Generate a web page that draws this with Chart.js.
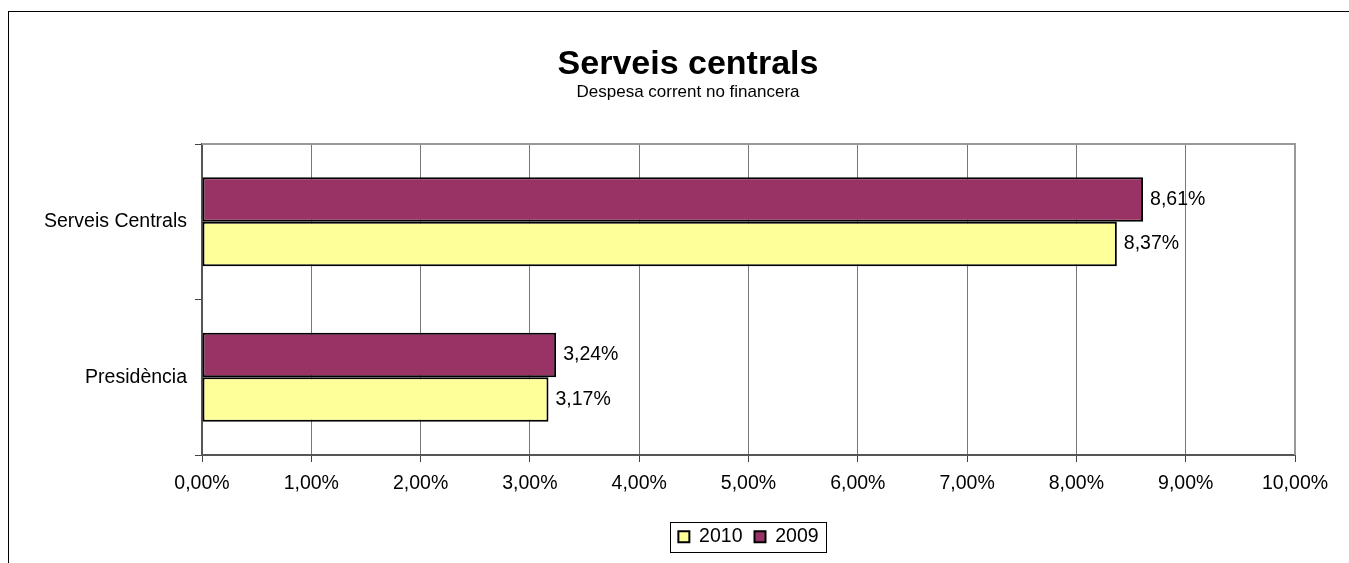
<!DOCTYPE html>
<html lang="ca">
<head>
    <meta charset="UTF-8">
    <title>Serveis centrals</title>
    <style>
        html, body { margin: 0; padding: 0; overflow: hidden; background: #fff; }
        .chart-container { width: 1376px; height: 563px; }
    </style>
</head>
<body>
    <div class="chart-container">
        <canvas id="graficaServeis" width="1376" height="563"></canvas>
    </div>

    <script src="https://cdn.jsdelivr.net/npm/chart.js"></script>
    <script>
        // Dades del gràfic
        const categories = ['Serveis Centrals', 'Presidència'];
        const valors2009 = [8.61, 3.24];
        const valors2010 = [8.37, 3.17];
        const ticksX = [0, 1, 2, 3, 4, 5, 6, 7, 8, 9, 10];

        const FONT = "'Liberation Sans', Arial, sans-serif";

        // Format català: 8,61%
        function percent(v) {
            return v.toFixed(2).replace('.', ',') + '%';
        }

        // Marc exterior i vora superior/dreta de l'àrea del gràfic
        const marcs = {
            id: 'marcs',
            beforeDraw(chart) {
                const c = chart.ctx;
                c.save();
                c.fillStyle = '#fff';
                c.fillRect(0, 0, chart.width, chart.height);
                c.strokeStyle = '#000';
                c.lineWidth = 1;
                c.strokeRect(8.5, 11.5, 1360, 600);
                c.restore();
            },
            afterDatasetsDraw(chart) {
                const a = chart.chartArea;
                const c = chart.ctx;
                c.save();
                c.strokeStyle = '#999';
                c.lineWidth = 2;
                c.beginPath();
                c.moveTo(a.left, a.top);
                c.lineTo(a.right, a.top);
                c.lineTo(a.right, a.bottom);
                c.stroke();
                c.restore();

                // etiquetes de valor al final de cada barra
                c.save();
                c.font = '19.5px ' + FONT;
                c.fillStyle = '#000';
                c.textAlign = 'left';
                c.textBaseline = 'middle';
                chart.data.datasets.forEach((ds, i) => {
                    chart.getDatasetMeta(i).data.forEach((bar, j) => {
                        c.fillText(percent(ds.data[j]), bar.x + 7, bar.y);
                    });
                });
                c.restore();
            },
            afterDraw(chart) {
                // requadre de la llegenda
                const boxes = chart.legend.legendHitBoxes;
                if (!boxes || !boxes.length) return;
                let l = Infinity, r = -Infinity, cy = 0;
                boxes.forEach(b => {
                    l = Math.min(l, b.left);
                    r = Math.max(r, b.left + b.width);
                    cy = b.top + b.height / 2;
                });
                const c = chart.ctx;
                c.save();
                c.strokeStyle = '#000';
                c.lineWidth = 1;
                c.strokeRect(Math.round(l - 8) + 0.5, Math.round(cy - 15) + 0.5, Math.round(r - l + 16), 30);
                c.restore();
            }
        };

        const ctx = document.getElementById('graficaServeis').getContext('2d');
        const grafica = new Chart(ctx, {
            type: 'bar',
            data: {
                labels: categories,
                datasets: [{
                    label: '2009',
                    data: valors2009,
                    backgroundColor: '#993366',
                    borderColor: '#000',
                    borderWidth: 2,
                    borderSkipped: false
                }, {
                    label: '2010',
                    data: valors2010,
                    backgroundColor: '#FFFF99',
                    borderColor: '#000',
                    borderWidth: 2,
                    borderSkipped: false
                }]
            },
            options: {
                indexAxis: 'y',
                responsive: false,
                animation: false,
                categoryPercentage: 0.572,
                barPercentage: 1,
                layout: { padding: { left: 0, right: 0, top: 0, bottom: 6.5 } },
                font: { family: FONT },
                color: '#000',
                plugins: {
                    title: {
                        display: true,
                        text: 'Serveis centrals',
                        color: '#000',
                        font: { family: FONT, size: 34, weight: 'bold', lineHeight: 1 },
                        padding: { top: 48, bottom: 0 }
                    },
                    subtitle: {
                        display: true,
                        text: 'Despesa corrent no financera',
                        color: '#000',
                        font: { family: FONT, size: 17, lineHeight: 1 },
                        padding: { top: 2, bottom: 43 }
                    },
                    legend: {
                        position: 'bottom',
                        fullSize: false,
                        reverse: true,
                        labels: {
                            color: '#000',
                            font: { family: FONT, size: 19.5 },
                            boxWidth: 11,
                            boxHeight: 11,
                            padding: 12
                        }
                    },
                    tooltip: { enabled: false }
                },
                scales: {
                    x: {
                        min: 0,
                        max: 10,
                        afterBuildTicks(scale) {
                            scale.ticks = ticksX.map(v => ({ value: v }));
                        },
                        afterFit(scale) { scale.height = 60; },
                        ticks: {
                            color: '#000',
                            font: { family: FONT, size: 19.5 },
                            padding: 10,
                            maxRotation: 0,
                            callback: (v) => percent(v)
                        },
                        grid: {
                            color: '#777',
                            lineWidth: 1,
                            tickLength: 7,
                            tickColor: '#444'
                        },
                        border: { color: '#555', width: 2 }
                    },
                    y: {
                        afterFit(scale) { scale.width = 202; },
                        ticks: {
                            color: '#000',
                            font: { family: FONT, size: 19.5 },
                            padding: 8
                        },
                        grid: {
                            offset: true,
                            drawOnChartArea: false,
                            tickLength: 7,
                            color: '#444'
                        },
                        border: { color: '#555', width: 2 }
                    },
                    // marge dret buit (sense marques) perquè el títol quedi centrat al marc
                    marge: {
                        type: 'linear',
                        position: 'right',
                        afterFit(scale) { scale.width = 81; },
                        ticks: { display: false },
                        grid: { display: false },
                        border: { display: false }
                    }
                }
            },
            plugins: [marcs]
        });
    </script>
</body>
</html>
